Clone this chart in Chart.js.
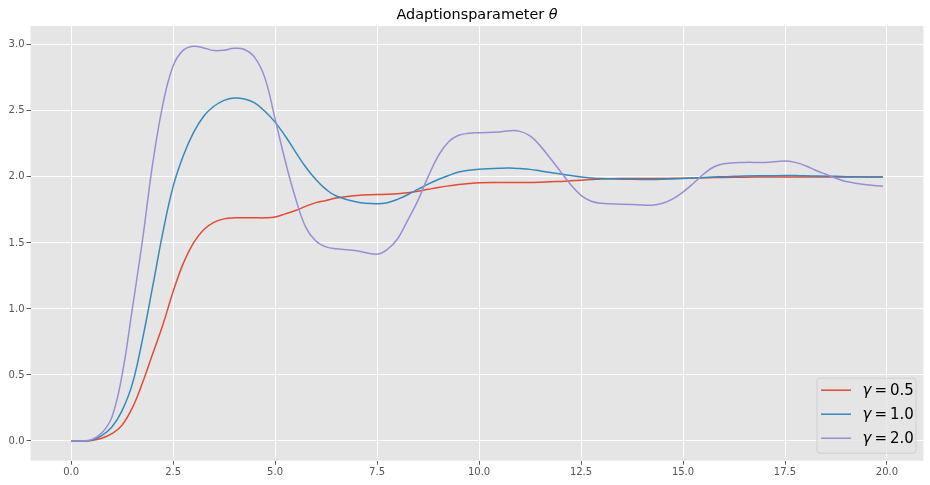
<!DOCTYPE html>
<html>
<head>
<meta charset="utf-8">
<script src="https://cdn.jsdelivr.net/npm/chart.js@4"></script>
<style>
  html, body { margin: 0; padding: 0; background: #fff; }
  #wrap { width: 930px; height: 485px; }
</style>
</head>
<body>
<div id="wrap"><canvas id="myChart" width="930" height="485"></canvas></div>
<script>
// Zeitachse und Verlauf von theta fuer drei Werte von gamma
var t = [0, 0.25, 0.5, 0.75, 1.0, 1.25, 1.5, 1.75, 2.0, 2.25, 2.5, 2.75, 3.0, 3.25, 3.5, 3.75,
    4.0, 4.25, 4.5, 4.75, 5.0, 5.25, 5.5, 5.75, 6.0, 6.25, 6.5, 7.0, 7.5, 7.75, 8.0, 8.25, 8.5,
    8.75, 9.0, 9.25, 9.5, 9.75, 10.0, 10.5, 10.75, 11.0, 11.25, 11.5, 11.75, 12.0, 12.25, 12.5,
    12.75, 13.0, 13.5, 14.0, 14.25, 14.5, 14.75, 15.0, 15.25, 15.5, 15.75, 16.0, 16.5, 17.0,
    17.5, 17.75, 18.0, 18.25, 18.5, 18.75, 19.0, 19.5, 19.9];

var gamma05 = [0, 0, 0.004, 0.02, 0.055, 0.12, 0.25, 0.44, 0.66, 0.88, 1.13, 1.345, 1.5, 1.6,
    1.655, 1.682, 1.69, 1.69, 1.69, 1.69, 1.697, 1.72, 1.745, 1.777, 1.805, 1.822, 1.84, 1.86,
    1.866, 1.868, 1.872, 1.88, 1.892, 1.906, 1.92, 1.932, 1.942, 1.95, 1.955, 1.957, 1.957, 1.958,
    1.958, 1.96, 1.963, 1.966, 1.97, 1.975, 1.98, 1.985, 1.988, 1.988, 1.988, 1.988, 1.989, 1.99,
    1.991, 1.993, 1.995, 1.996, 1.998, 2.0, 2.0, 2.0, 2.0, 2.0, 2.0, 2.0, 2.0, 2.0, 2.0];

var gamma10 = [0, 0, 0.005, 0.04, 0.105, 0.23, 0.43, 0.77, 1.17, 1.58, 1.926, 2.16, 2.335, 2.46,
    2.535, 2.58, 2.598, 2.59, 2.56, 2.497, 2.415, 2.31, 2.19, 2.075, 1.98, 1.905, 1.855, 1.81, 1.797,
    1.805, 1.83, 1.865, 1.905, 1.945, 1.98, 2.01, 2.037, 2.05, 2.057, 2.065, 2.067, 2.063, 2.057,
    2.045, 2.033, 2.022, 2.01, 2.0, 1.992, 1.987, 1.983, 1.98, 1.98, 1.982, 1.985, 1.988, 1.991,
    1.995, 1.999, 2.002, 2.007, 2.009, 2.01, 2.01, 2.008, 2.007, 2.005, 2.004, 2.002, 2.0, 2.0];

var gamma20 = [0, 0, 0.01, 0.06, 0.18, 0.5, 1.0, 1.52, 2.1, 2.55, 2.84, 2.96, 2.99, 2.977,
    2.957, 2.96, 2.975, 2.965, 2.905, 2.75, 2.44, 2.12, 1.84, 1.62, 1.515, 1.47, 1.455, 1.44, 1.415,
    1.45, 1.53, 1.67, 1.82, 2.0, 2.16, 2.265, 2.315, 2.33, 2.335, 2.34, 2.35, 2.345, 2.31, 2.235,
    2.14, 2.04, 1.94, 1.86, 1.815, 1.8, 1.793, 1.788, 1.785, 1.8, 1.834, 1.885, 1.95, 2.02, 2.075,
    2.1, 2.11, 2.11, 2.12, 2.11, 2.085, 2.05, 2.02, 1.99, 1.965, 1.94, 1.93];

var labels = ["0.5", "1.0", "2.0"];
var xTicks = [0, 2.5, 5, 7.5, 10, 12.5, 15, 17.5, 20];
var yTicks = [0, 0.5, 1, 1.5, 2, 2.5, 3];

var farben = ["#E24A33", "#348ABD", "#988ED5"];

function punkte(werte) {
    return t.map(function (x, i) { return { x: x, y: werte[i] }; });
}

// Hintergrund der Achsenflaeche (ggplot-Grau)
var hintergrund = {
    id: "hintergrund",
    beforeDraw: function (chart) {
        var a = chart.chartArea, ctx = chart.ctx;
        ctx.save();
        ctx.fillStyle = "#E5E5E5";
        ctx.fillRect(a.left, a.top, a.right - a.left, a.bottom - a.top);
        ctx.restore();
    }
};

// Titel mit kursivem theta
var titel = {
    id: "titel",
    afterDraw: function (chart) {
        var a = chart.chartArea, ctx = chart.ctx;
        var teil1 = "Adaptionsparameter ", teil2 = "\u03B8";
        ctx.save();
        ctx.fillStyle = "#000";
        ctx.textBaseline = "alphabetic";
        ctx.font = "14.4px 'DejaVu Sans'";
        var w1 = ctx.measureText(teil1).width;
        ctx.font = "italic 14.4px 'DejaVu Sans'";
        var w2 = ctx.measureText(teil2).width;
        var x0 = (a.left + a.right) / 2 - (w1 + w2) / 2;
        var y0 = a.top - 7;
        ctx.font = "14.4px 'DejaVu Sans'";
        ctx.fillText(teil1, x0, y0);
        ctx.font = "italic 14.4px 'DejaVu Sans'";
        ctx.fillText(teil2, x0 + w1, y0);
        ctx.restore();
    }
};

// Legende unten rechts im Diagramm
var legende = {
    id: "legende",
    afterDraw: function (chart) {
        var a = chart.chartArea, ctx = chart.ctx;
        var fs = 15;
        var bx = a.right - 106.5, by = a.bottom - 82.5, bw = 99, bh = 75;
        ctx.save();
        ctx.beginPath();
        ctx.roundRect(bx, by, bw, bh, 3);
        ctx.fillStyle = "rgba(229,229,229,0.8)";
        ctx.fill();
        ctx.strokeStyle = "rgba(204,204,204,0.8)";
        ctx.lineWidth = 1;
        ctx.stroke();
        chart.data.datasets.forEach(function (ds, i) {
            var cy = by + 12 + i * 24;
            ctx.strokeStyle = ds.borderColor;
            ctx.lineWidth = 1.5;
            ctx.beginPath();
            ctx.moveTo(bx + 4, cy);
            ctx.lineTo(bx + 34, cy);
            ctx.stroke();
            ctx.fillStyle = "#000";
            ctx.textBaseline = "middle";
            var x = bx + 45.5;
            ctx.font = "italic " + fs + "px 'DejaVu Sans'";
            ctx.fillText("\u03B3", x, cy + 1);
            x += ctx.measureText("\u03B3").width + 3;
            ctx.font = fs + "px 'DejaVu Sans'";
            ctx.fillText("=", x, cy + 1);
            x += ctx.measureText("=").width + 3;
            ctx.fillText(labels[i], x, cy + 1);
        });
        ctx.restore();
    }
};

var canvas = document.getElementById("myChart");

var chart = new Chart(canvas, {
    type: "line",
    data: {
        datasets: [
            { label: "\u03B3 = " + labels[0], data: punkte(gamma05), borderColor: farben[0], order: 2 },
            { label: "\u03B3 = " + labels[1], data: punkte(gamma10), borderColor: farben[1], order: 1 },
            { label: "\u03B3 = " + labels[2], data: punkte(gamma20), borderColor: farben[2], order: 0 }
        ]
    },
    options: {
        responsive: false,
        animation: false,
        devicePixelRatio: 1,
        layout: { padding: { left: 0, right: 6.5, top: 26, bottom: 0 } },
        elements: {
            point: { radius: 0, hoverRadius: 0 },
            line: { borderWidth: 1.5, fill: false, tension: 0.4 }
        },
        plugins: {
            legend: { display: false },
            title: { display: false },
            tooltip: { enabled: false }
        },
        scales: {
            x: {
                type: "linear",
                min: -0.995,
                max: 20.895,
                afterBuildTicks: function (s) { s.ticks = xTicks.map(function (v) { return { value: v }; }); },
                afterFit: function (s) { s.height = 24.3; },
                border: { display: false },
                grid: { color: "#FFFFFF", lineWidth: 1, drawTicks: true, tickLength: 4, tickColor: "#555555", tickWidth: 1 },
                ticks: {
                    color: "#555555",
                    font: { family: "'DejaVu Sans'", size: 10 },
                    padding: 2,
                    maxRotation: 0,
                    callback: function (v) { return v.toFixed(1); }
                }
            },
            y: {
                type: "linear",
                min: -0.1497,
                max: 3.143,
                afterBuildTicks: function (s) { s.ticks = yTicks.map(function (v) { return { value: v }; }); },
                afterFit: function (s) { s.width = 30.5; },
                border: { display: false },
                grid: { color: "#FFFFFF", lineWidth: 1, drawTicks: true, tickLength: 4, tickColor: "#555555", tickWidth: 1 },
                ticks: {
                    color: "#555555",
                    font: { family: "'DejaVu Sans'", size: 10 },
                    padding: 2,
                    callback: function (v) { return v.toFixed(1); }
                }
            }
        }
    },
    plugins: [hintergrund, titel, legende]
});
</script>
</body>
</html>
